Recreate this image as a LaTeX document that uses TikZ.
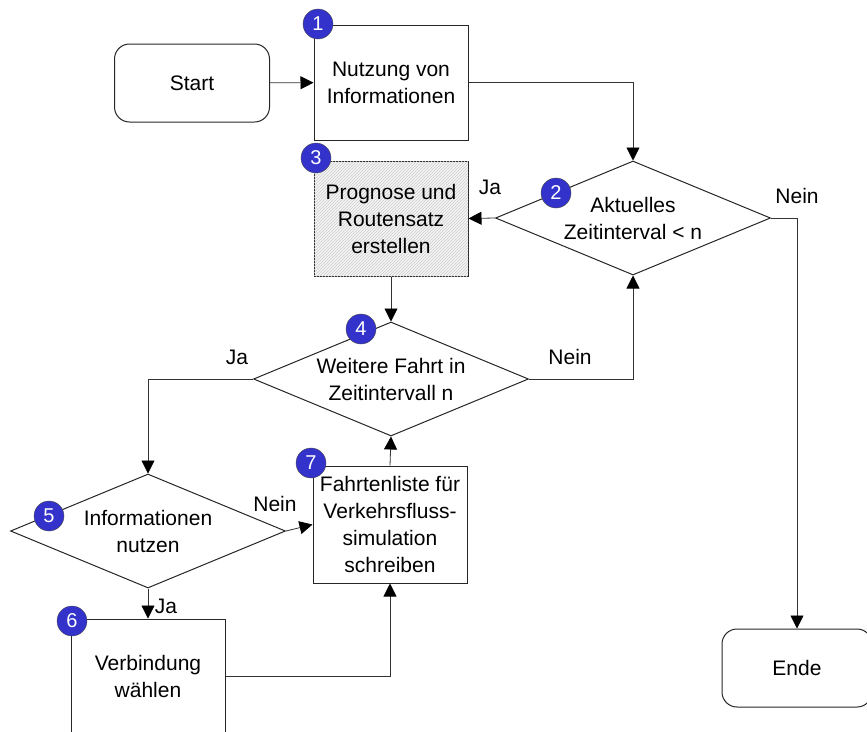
\documentclass[tikz,border=0pt]{standalone}
\usepackage{fontspec}
\setmainfont{Liberation Sans}
\usetikzlibrary{shapes.geometric,arrows.meta,patterns}
\definecolor{numblue}{RGB}{51,51,204}
\begin{document}
\begin{tikzpicture}[x=1pt,y=-1pt,
  every node/.style={font=\fontsize{21}{27}\selectfont},
  box/.style={draw=black!85,line width=1pt,fill=white,minimum width=154pt,minimum height=115pt,align=center,inner sep=0pt},
  term/.style={draw=black!85,line width=1pt,rounded corners=15pt,minimum width=155pt,minimum height=78pt,inner sep=0pt},
  decide/.style={draw=black!85,line width=1pt,fill=white,diamond,aspect=2.4,minimum width=275pt,minimum height=114pt,align=center,inner sep=0pt},
  numdot/.style={circle,draw=black!70,fill=numblue,text=white,minimum size=30pt,inner sep=0pt,font=\fontsize{20}{20}\selectfont},
  flow/.style={draw=black!80,line width=0.8pt,-{Triangle[length=13pt,width=13pt,fill=black,color=black]}}]
\useasboundingbox (0,0) rectangle (867,731);

\node[term] (start) at (192,83) {Start};
\node[box] (info) at (391,82.5) {Nutzung von\\Informationen};
\node[decide] (zeit) at (633,218) {Aktuelles\\Zeitinterval < n};
\node[box,fill=gray!8,postaction={pattern=north east lines,pattern color=gray!40}] (prog) at (391,218.5) {Prognose und\\Routensatz\\erstellen};
\node[decide] (fahrt) at (391,379) {Weitere Fahrt in\\Zeitintervall n};
\node[decide] (nutzen) at (148,531) {Informationen\\nutzen};
\node[box,minimum height=117pt] (liste) at (390,524.5) {Fahrtenliste für\\Verkehrsfluss-\\simulation\\schreiben};
\node[box] (wahl) at (148,676.5) {Verbindung\\wählen};
\node[term,minimum width=150pt] (ende) at (797,668) {Ende};

% numbered markers
\foreach \n/\x/\y in {1/318/24,2/556/193,3/316/158,4/361/329,5/49/516,6/72/621,7/311/463}
  \node[numdot] (c\n) at (\x,\y) {\n};

% connectors
\draw[flow] (start) -- (info);
\draw[flow] (info.east) -| (zeit.north);
\draw[flow] (zeit.west) -- (prog.east);
\draw[flow] (zeit.east) -| (ende.north);
\draw[flow] (prog.south) -- (fahrt.north);
\draw[flow] (fahrt.east) -| (zeit.south);
\draw[flow] (fahrt.west) -| (nutzen.north);
\draw[flow] (nutzen.east) -- (liste.west);
\draw[flow] (nutzen.south) -- (wahl.north);
\draw[flow] (wahl.east) -| (liste.south);
\draw[flow] (liste.north) -- (fahrt.south);

\node (ja1) at (490,187) {Ja};
\node (nein1) at (797,196) {Nein};
\node (ja2) at (237,357) {Ja};
\node (nein2) at (570,357) {Nein};
\node (nein3) at (275,504) {Nein};
\node (ja3) at (166,606) {Ja};
\end{tikzpicture}
\end{document}
